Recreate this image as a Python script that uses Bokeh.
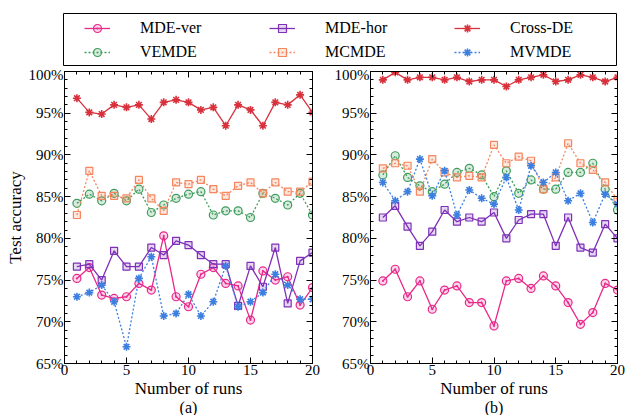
from bokeh.plotting import figure
from bokeh.layouts import column, row
from bokeh.models import (LinearAxis, SingleIntervalTicker, PrintfTickFormatter,
                          CustomJSTickFormatter, Range1d, Legend, LegendItem, Title,
                          ColumnDataSource)
from bokeh.embed import file_html
from bokeh.resources import INLINE

# ---------------- data ----------------
runs = list(range(1, 21))

names = ["MDE-ver", "VEMDE", "MDE-hor", "MCMDE", "Cross-DE", "MVMDE"]

mdever_a = [75.2, 76.5, 73.2, 72.8, 73.0, 74.6, 73.8, 80.3, 73.0, 71.8,
            75.7, 76.5, 74.6, 74.3, 70.2, 76.1, 75.0, 75.4, 72.0, 74.1]
vemde_a = [84.2, 85.3, 84.5, 85.4, 84.5, 85.9, 83.1, 84.0, 84.8, 85.3,
           85.6, 82.8, 83.3, 83.3, 82.5, 85.4, 84.8, 84.0, 85.4, 82.8]
mdehor_a = [76.6, 76.9, 75.0, 78.5, 76.6, 76.6, 78.9, 78.0, 79.7, 79.2,
            78.0, 76.9, 76.9, 71.9, 76.7, 74.2, 78.9, 72.2, 77.3, 78.3]
mcmde_a = [82.8, 88.1, 85.1, 85.1, 84.8, 87.0, 84.8, 83.3, 86.7, 86.5,
           87.0, 85.9, 85.1, 86.3, 86.7, 85.4, 86.7, 85.6, 85.6, 86.8]
cross_a = [96.8, 95.1, 94.9, 96.0, 95.7, 96.0, 94.3, 96.3, 96.6, 96.3,
           95.4, 95.7, 93.5, 96.0, 95.4, 93.5, 96.3, 96.0, 97.2, 95.1]
mvmde_a = [73.0, 73.5, 74.4, 72.4, 67.0, 75.2, 77.8, 70.7, 71.0, 73.3,
           70.7, 72.4, 76.7, 71.8, 72.4, 73.5, 75.7, 74.4, 72.7, 72.7]

mdever_b = [74.9, 76.3, 73.0, 74.9, 71.5, 73.8, 74.3, 72.3, 72.3, 69.5,
            74.9, 75.2, 74.0, 75.5, 74.3, 72.3, 69.7, 71.1, 74.6, 73.8]
vemde_b = [87.6, 89.9, 87.3, 86.3, 85.6, 86.5, 87.9, 88.4, 87.6, 85.0,
           88.1, 85.4, 87.0, 85.9, 85.9, 87.9, 87.9, 89.0, 85.9, 83.4]
mdehor_b = [82.5, 83.9, 81.4, 79.1, 80.8, 83.4, 82.0, 82.5, 82.0, 83.1,
            80.0, 82.2, 82.9, 82.9, 79.1, 82.5, 78.9, 78.3, 81.7, 80.0]
mcmde_b = [88.4, 89.0, 88.7, 85.6, 89.5, 87.9, 87.3, 87.5, 87.3, 91.2,
           89.0, 89.8, 89.3, 85.9, 87.3, 91.4, 89.0, 88.2, 86.7, 84.6]
cross_b = [99.0, 99.9, 99.0, 99.3, 99.3, 99.0, 99.3, 98.8, 99.0, 99.0,
           98.2, 99.0, 99.3, 99.6, 98.8, 99.0, 99.6, 99.3, 98.8, 99.3]
mvmde_b = [86.7, 84.5, 85.6, 89.5, 85.1, 88.1, 82.8, 85.8, 84.8, 84.1,
           87.3, 83.4, 88.7, 86.7, 87.9, 84.5, 85.4, 81.9, 85.3, 84.1]

x_label = "Number of runs"
y_label = "Test accuracy"

# ---------------- styles ----------------
FONT = "Liberation Serif"
styles = {
    "MDE-ver": dict(color="#E8288A", dash="solid", marker="circle_dot", size=8),
    "VEMDE": dict(color="#3E9D5C", dash="2 2", marker="circle", size=8),
    "MDE-hor": dict(color="#7E30B8", dash="solid", marker="square", size=7),
    "MCMDE": dict(color="#F5875F", dash="2 2", marker="square", size=7),
    "Cross-DE": dict(color="#D8313C", dash="solid", marker="asterisk", size=8),
    "MVMDE": dict(color="#3C7FE0", dash="2 2", marker="asterisk", size=8),
}


def draw_series(p, name, src):
    st = styles[name]
    r1 = p.line("x", "y", source=src, line_color=st["color"], line_width=1.3,
                line_dash=st["dash"])
    r2 = p.scatter("x", "y", source=src, marker=st["marker"], size=st["size"],
                   line_color=st["color"], fill_color=st["color"], fill_alpha=0.2,
                   line_width=1.6 if st["marker"] == "asterisk" else 1.2)
    return [r1, r2]


def make_panel(tag, vals, w, bl, br, ylabel):
    p = figure(width=w, height=349, output_backend="svg", toolbar_location=None,
               x_range=Range1d(0, 20), y_range=Range1d(65, 100),
               min_border_left=bl, min_border_right=br, min_border_top=5,
               min_border_bottom=52, x_axis_label=x_label,
               y_axis_label=ylabel)
    p.grid.visible = False
    p.outline_line_color = "black"
    p.outline_line_width = 1
    xt = SingleIntervalTicker(interval=5, num_minor_ticks=5)
    yt = SingleIntervalTicker(interval=5, num_minor_ticks=5)
    p.xaxis.ticker = xt
    p.yaxis.ticker = yt
    p.yaxis.formatter = PrintfTickFormatter(format="%d%%")
    p.add_layout(LinearAxis(ticker=xt, formatter=CustomJSTickFormatter(code="return ''")), "above")
    p.add_layout(LinearAxis(ticker=yt, formatter=CustomJSTickFormatter(code="return ''")), "right")
    for ax in p.axis:
        ax.major_tick_in = 6
        ax.major_tick_out = 0
        ax.minor_tick_in = 3
        ax.minor_tick_out = 0
        ax.axis_line_color = "black"
        ax.major_tick_line_color = "black"
        ax.minor_tick_line_color = "black"
        ax.major_label_text_font = FONT
        ax.major_label_text_font_size = "15px"
        ax.major_label_text_color = "black"
        ax.major_label_standoff = 1
        ax.axis_label_text_font = FONT
        ax.axis_label_text_font_size = "17px"
        ax.axis_label_text_font_style = "normal"
        ax.axis_label_text_color = "black"
        ax.axis_label_standoff = 1
    p.xaxis[0].axis_label_standoff = -4
    for name, ys in zip(names, vals):
        draw_series(p, name, ColumnDataSource(dict(x=runs, y=ys)))
    t = Title(text=tag, align="center", text_font=FONT, text_font_size="16px",
              text_font_style="normal", text_color="black", standoff=-7, offset=0)
    p.add_layout(t, "below")
    return p


pa = make_panel("(a)", [mdever_a, vemde_a, mdehor_a, mcmde_a, cross_a, mvmde_a],
                320, 64, 8, y_label)
pb = make_panel("(b)", [mdever_b, vemde_b, mdehor_b, mcmde_b, cross_b, mvmde_b],
                308, 50, 11, None)

# ---------------- legend strip (series drawn far outside its view) ----------------
leg = figure(width=628, height=66, output_backend="svg", toolbar_location=None,
             x_axis_type=None, y_axis_type=None,
             x_range=Range1d(1000, 1001), y_range=Range1d(0, 1),
             min_border_left=63, min_border_right=12, min_border_top=13,
             min_border_bottom=1)
leg.outline_line_color = "black"
leg.outline_line_width = 1
items = []
for name, ys in zip(names, [mdever_a, vemde_a, mdehor_a, mcmde_a, cross_a, mvmde_a]):
    rs = draw_series(leg, name, ColumnDataSource(dict(x=runs, y=ys)))
    items.append(LegendItem(label=name, renderers=rs))
legend = Legend(items=items, location=(21, 3), orientation="vertical", nrows=2,
                border_line_color=None, background_fill_alpha=0, padding=0,
                margin=0, spacing=4, glyph_width=26, glyph_height=20,
                label_standoff=30, label_width=125, label_height=20,
                label_text_font=FONT, label_text_font_size="16px",
                label_text_color="black")
leg.add_layout(legend, "center")

layout = column(leg, row(pa, pb))
open("out.html", "w").write(file_html(layout, INLINE))
